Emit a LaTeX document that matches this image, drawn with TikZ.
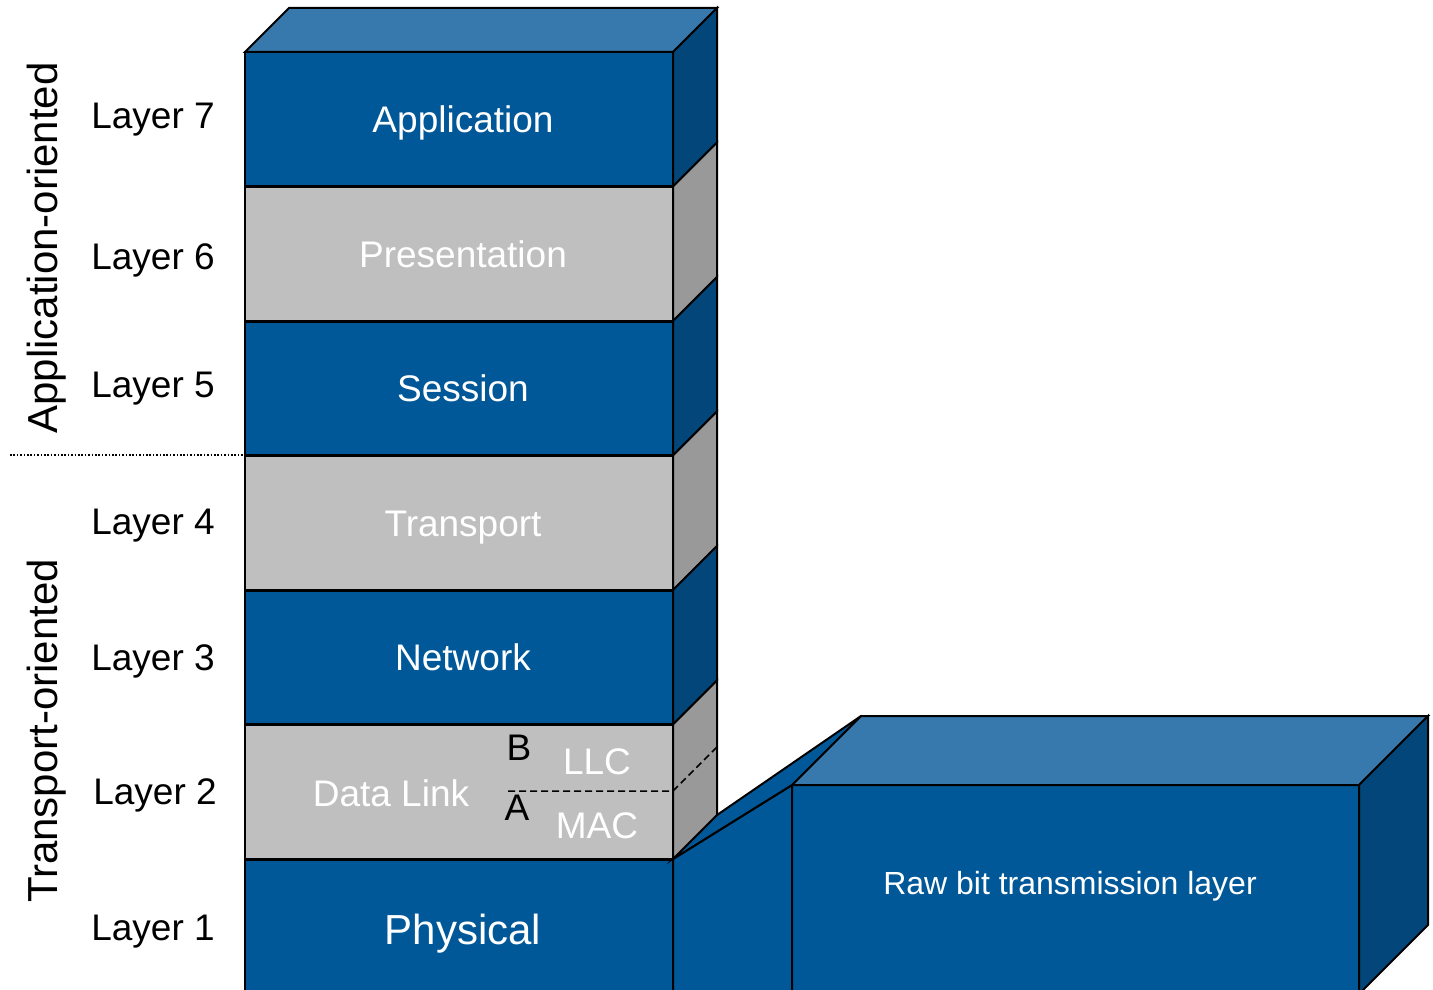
\documentclass[tikz,border=0pt]{standalone}
\usepackage{fontspec}
\setmainfont{Liberation Sans}
\definecolor{frontblue}{RGB}{0,88,152}
\definecolor{topblue}{RGB}{55,121,172}
\definecolor{sideblue}{RGB}{3,70,121}
\definecolor{frontgrey}{RGB}{191,191,191}
\definecolor{sidegrey}{RGB}{153,153,153}
\tikzset{
  edge/.style={draw=black, line width=2pt, line join=miter},
  seam/.style={draw=black, line width=3pt},
  % vertical centring on the capital letters
  capcenter/.style={text height=#1, text depth=0pt},
  layerbox/.style={edge, minimum width=428pt, minimum height=134.5pt,
    inner sep=0pt, outer sep=0pt, text=white, capcenter=26.5pt,
    font=\fontsize{37}{44}\selectfont,
    execute at begin node={\hspace*{8pt}}},
  bluelayer/.style={layerbox, fill=frontblue},
  greylayer/.style={layerbox, fill=frontgrey},
  bluesideface/.style={edge, fill=sideblue},
  greysideface/.style={edge, fill=sidegrey},
  layerlabel/.style={font=\fontsize{37}{44}\selectfont, text=black, inner sep=0pt, capcenter=26.5pt},
  sublabel/.style={font=\fontsize{37}{44}\selectfont, text=white, inner sep=0pt, capcenter=26.5pt},
  grouplabel/.style={font=\fontsize{42}{50}\selectfont, text=black, inner sep=0pt,
    rotate=90, capcenter=30pt},
}
\begin{document}
\begin{tikzpicture}[x=1pt,y=-1pt]
\clip (0,0) rectangle (1433,990);

% ---- raw bit transmission box ----
\node[edge, fill=frontblue, minimum width=567pt, minimum height=209pt,
      inner sep=0pt, outer sep=0pt] (raw) at (1075.5,889.5) {};
\draw[edge, fill=topblue] (raw.north west) -- ++(69,-69)
  -- ([shift={(69,-69)}]raw.north east) -- (raw.north east) -- cycle;
\draw[edge, fill=sideblue] (raw.north east) -- ++(69,-69)
  -- ([shift={(69,-69)}]raw.south east) -- (raw.south east) -- cycle;
\node[font=\fontsize{32}{38}\selectfont, text=white, inner sep=0pt, capcenter=23pt] (rawlabel)
  at (1070,883) {Raw bit transmission layer};

% ---- OSI stack fronts ----
\node[bluelayer] (app)   at (459,119.25) {Application};
\node[greylayer] (pres)  at (459,253.75) {Presentation};
\node[bluelayer] (sess)  at (459,388.25) {Session};
\node[greylayer] (trans) at (459,522.75) {Transport};
\node[bluelayer] (net)   at (459,657.25) {Network};
\node[greylayer] (dl)    at (459,791.75) {};
\node[bluelayer, font=\fontsize{42}{50}\selectfont, capcenter=36pt] (phys) at (459,926.25) {Physical};

% ---- link between physical layer and raw box ----
\draw[edge, fill=frontblue] (phys.north east) -- (raw.north west)
  -- (raw.south west) -- (phys.south east) -- cycle;
\draw[edge, fill=frontblue] (phys.north east) -- ++(44,-44)
  -- ([shift={(69,-69)}]raw.north west) -- (raw.north west) -- cycle;

% ---- stack top and side faces ----
\draw[edge, fill=topblue] (app.north west) -- ++(44,-44)
  -- ([shift={(44,-44)}]app.north east) -- (app.north east) -- cycle;
\foreach \l/\s in {app/bluesideface, pres/greysideface, sess/bluesideface,
                   trans/greysideface, net/bluesideface, dl/greysideface}{
  \draw[\s] (\l.north east) -- ++(44,-44)
    -- ([shift={(44,-44)}]\l.south east) -- (\l.south east) -- cycle;
  \draw[seam] (\l.south west) -- (\l.south east);
}

% ---- data link sublayers ----
\coordinate (subL) at (508,791);
\coordinate (subR) at (dl.east |- subL);
\coordinate (subB) at ([shift={(44,-44)}]subR);
\draw[black, line width=1.5pt, dash pattern=on 7pt off 4pt] (subL) -- (subR) -- (subB);
\node[sublabel] (dltext) at (391,793) {Data Link};
\node[sublabel] (llc) at (597,761) {LLC};
\node[sublabel] (mac) at (597,825) {MAC};
\node[layerlabel] (subb) at (519,747) {B};
\node[layerlabel] (suba) at (517,807) {A};

% ---- layer numbers ----
\node[layerlabel] (l7) at (153,115) {Layer 7};
\node[layerlabel] (l6) at (153,256) {Layer 6};
\node[layerlabel] (l5) at (153,384) {Layer 5};
\node[layerlabel] (l4) at (153,521) {Layer 4};
\node[layerlabel] (l3) at (153,657) {Layer 3};
\node[layerlabel] (l2) at (155,791) {Layer 2};
\node[layerlabel] (l1) at (153,927) {Layer 1};

% ---- grouping ----
\coordinate (sepL) at (10,455);
\coordinate (sepR) at (243,455);
\draw[black, line width=1.8pt, dash pattern=on 1.6pt off 1.8pt] (sepL) -- (sepR);
\node[grouplabel] (appgroup) at (42,248) {Application-oriented};
\node[grouplabel] (trgroup) at (42,731) {Transport-oriented};
\end{tikzpicture}
\end{document}
